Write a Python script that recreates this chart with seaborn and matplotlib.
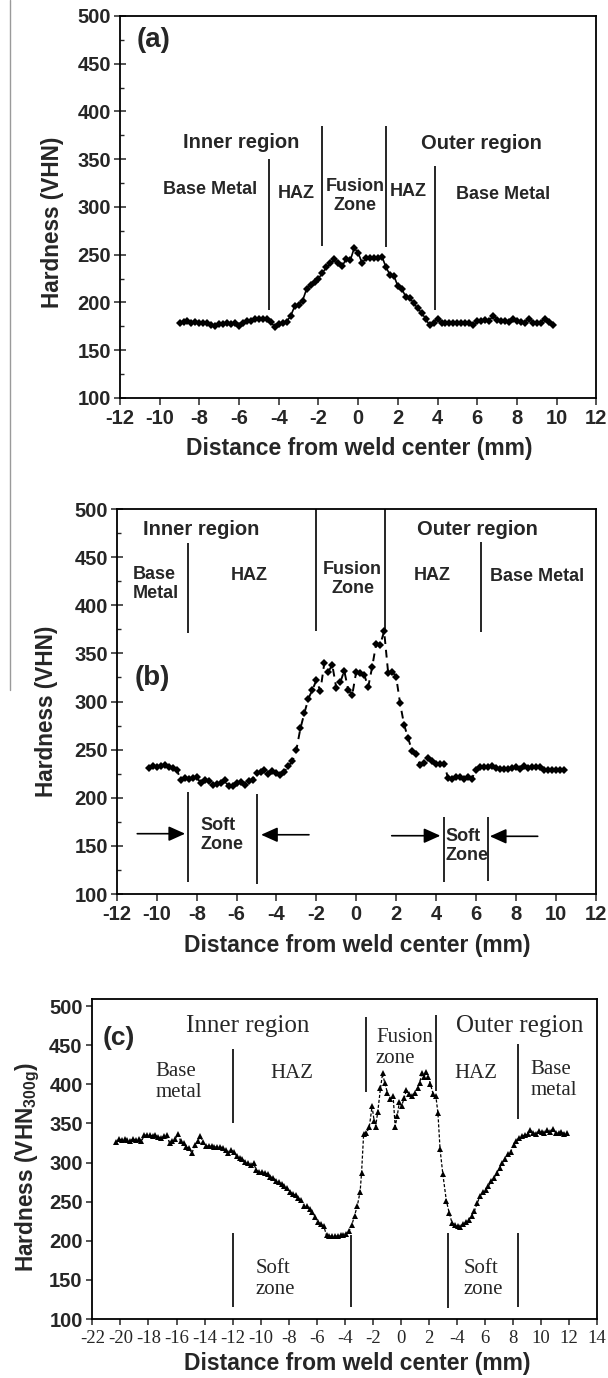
import matplotlib
matplotlib.use("Agg")
import matplotlib.pyplot as plt
from matplotlib.lines import Line2D
from matplotlib.ticker import MultipleLocator
import pandas as pd
import seaborn as sns

# ---- panel (a) hardness profile ----
a_x = [-9.0, -8.8, -8.6, -8.4, -8.2, -8.0, -7.8, -7.6, -7.4, -7.2,
       -7.0, -6.8, -6.6, -6.4, -6.2, -6.0, -5.8, -5.6, -5.4, -5.2,
       -5.0, -4.8, -4.6, -4.4, -4.2, -4.0, -3.8, -3.6, -3.4, -3.2,
       -3.0, -2.8, -2.6, -2.4, -2.2, -2.0, -1.8, -1.6, -1.4, -1.2,
       -1.0, -0.8, -0.6, -0.4, -0.2, 0.0, 0.2, 0.4, 0.6, 0.8,
       1.0, 1.2, 1.4, 1.6, 1.8, 2.0, 2.2, 2.4, 2.6, 2.8,
       3.0, 3.2, 3.4, 3.6, 3.8, 4.0, 4.2, 4.4, 4.6, 4.8,
       5.0, 5.2, 5.4, 5.6, 5.8, 6.0, 6.2, 6.4, 6.6, 6.8,
       7.0, 7.2, 7.4, 7.6, 7.8, 8.0, 8.2, 8.4, 8.6, 8.8,
       9.0, 9.2, 9.4, 9.6, 9.8]
a_hv = [179, 180, 181, 179, 180, 178, 179, 178, 176, 175,
        177, 177, 178, 177, 178, 175, 178, 181, 181, 183,
        183, 183, 183, 180, 174, 177, 178, 180, 186, 196,
        197, 202, 214, 218, 221, 225, 231, 237, 241, 245,
        241, 238, 246, 244, 257, 252, 241, 247, 247, 247,
        247, 248, 237, 229, 228, 217, 214, 206, 205, 199,
        194, 189, 183, 176, 178, 183, 179, 178, 179, 178,
        179, 178, 179, 178, 176, 181, 181, 182, 181, 186,
        182, 181, 181, 180, 183, 181, 180, 179, 183, 179,
        178, 179, 183, 180, 176]

# ---- panel (b) hardness profile ----
b_x = [-10.4, -10.2, -10.0, -9.8, -9.6, -9.4, -9.2, -9.0, -8.8, -8.6,
       -8.4, -8.2, -8.0, -7.8, -7.6, -7.4, -7.2, -7.0, -6.8, -6.6,
       -6.4, -6.2, -6.0, -5.8, -5.6, -5.4, -5.2, -5.0, -4.8, -4.6,
       -4.4, -4.2, -4.0, -3.8, -3.6, -3.4, -3.2, -3.0, -2.8, -2.6,
       -2.4, -2.2, -2.0, -1.8, -1.6, -1.4, -1.2, -1.0, -0.8, -0.6,
       -0.4, -0.2, 0.0, 0.2, 0.4, 0.6, 0.8, 1.0, 1.2, 1.4,
       1.6, 1.8, 2.0, 2.2, 2.4, 2.6, 2.8, 3.0, 3.2, 3.4,
       3.6, 3.8, 4.0, 4.2, 4.4, 4.6, 4.8, 5.0, 5.2, 5.4,
       5.6, 5.8, 6.0, 6.2, 6.4, 6.6, 6.8, 7.0, 7.2, 7.4,
       7.6, 7.8, 8.0, 8.2, 8.4, 8.6, 8.8, 9.0, 9.2, 9.4,
       9.6, 9.8, 10.0, 10.2, 10.4]
b_hv = [231, 233, 232, 233, 234, 232, 231, 229, 219, 221,
        220, 221, 222, 215, 218, 217, 213, 214, 215, 218,
        212, 212, 215, 216, 213, 217, 219, 226, 227, 229,
        225, 228, 226, 224, 227, 233, 238, 250, 272, 288,
        303, 312, 322, 311, 340, 331, 338, 314, 320, 332,
        312, 307, 331, 330, 328, 315, 336, 360, 359, 373,
        330, 331, 326, 298, 276, 262, 249, 245, 234, 236,
        241, 238, 235, 235, 235, 221, 220, 222, 222, 220,
        222, 220, 229, 232, 232, 232, 233, 231, 230, 230,
        230, 231, 232, 230, 233, 231, 232, 232, 232, 229,
        229, 229, 229, 229, 229]

# ---- panel (c) hardness profile ----
c_x = [-20.3, -20.1, -19.9, -19.7, -19.5, -19.3, -19.1, -18.9, -18.7, -18.5,
       -18.3, -18.1, -17.9, -17.7, -17.5, -17.3, -17.1, -16.9, -16.7, -16.5,
       -16.3, -16.1, -15.9, -15.7, -15.5, -15.3, -15.1, -14.9, -14.7, -14.5,
       -14.3, -14.1, -13.9, -13.7, -13.5, -13.3, -13.1, -12.9, -12.7, -12.5,
       -12.3, -12.1, -11.9, -11.7, -11.5, -11.3, -11.1, -10.9, -10.7, -10.5,
       -10.3, -10.1, -9.9, -9.7, -9.5, -9.3, -9.1, -8.9, -8.7, -8.5,
       -8.3, -8.1, -7.9, -7.7, -7.5, -7.3, -7.1, -6.9, -6.7, -6.5,
       -6.3, -6.1, -5.9, -5.7, -5.5, -5.3, -5.1, -4.9, -4.7, -4.5,
       -4.3, -4.1, -3.9, -3.7, -3.5, -3.3, -3.1, -2.9, -2.8, -2.65,
       -2.45, -2.25, -2.05, -1.9, -1.8, -1.65, -1.45, -1.3, -1.15, -0.95,
       -0.75, -0.55, -0.4, -0.25, -0.1, 0.05, 0.25, 0.4, 0.6, 0.8,
       1.0, 1.2, 1.35, 1.5, 1.65, 1.8, 1.95, 2.1, 2.3, 2.5,
       2.65, 2.8, 3.0, 3.25, 3.45, 3.65, 3.85, 4.05, 4.25, 4.45,
       4.65, 4.85, 5.05, 5.25, 5.45, 5.65, 5.85, 6.05, 6.25, 6.45,
       6.65, 6.85, 7.05, 7.25, 7.45, 7.65, 7.85, 8.05, 8.25, 8.45,
       8.65, 8.85, 9.05, 9.25, 9.45, 9.65, 9.85, 10.05, 10.25, 10.45,
       10.65, 10.85, 11.05, 11.25, 11.45, 11.65, 11.85]
c_hv = [326, 330, 329, 330, 329, 328, 330, 329, 330, 327,
        335, 335, 335, 334, 335, 333, 331, 334, 335, 325,
        327, 330, 336, 327, 325, 320, 318, 312, 322, 327,
        334, 326, 321, 321, 321, 320, 320, 320, 319, 316,
        312, 316, 313, 308, 306, 304, 301, 299, 297, 299,
        290, 288, 288, 287, 285, 282, 280, 277, 275, 273,
        270, 267, 263, 260, 258, 255, 252, 244, 245, 240,
        237, 230, 224, 221, 219, 207, 206, 206, 206, 206,
        207, 208, 209, 212, 220, 232, 245, 263, 287, 337,
        338, 345, 372, 353, 346, 364, 395, 414, 402, 389,
        381, 385, 346, 360, 378, 372, 383, 393, 387, 385,
        389, 395, 402, 415, 409, 416, 410, 401, 388, 385,
        363, 317, 285, 251, 236, 223, 220, 219, 218, 222,
        224, 227, 232, 238, 248, 257, 262, 265, 270, 276,
        280, 287, 293, 300, 305, 311, 314, 322, 327, 332,
        334, 335, 336, 341, 338, 337, 340, 339, 338, 341,
        339, 343, 338, 338, 339, 337, 338]

hv_ticks = [100, 150, 200, 250, 300, 350, 400, 450, 500]
ab_xticks = [-12, -10, -8, -6, -4, -2, 0, 2, 4, 6, 8, 10, 12]
c_xticks = [-22, -20, -18, -16, -14, -12, -10, -8, -6, -4, -2, 0, 2, 4, 6, 8, 10, 12, 14]
# the original axis really prints "-4" at +4
c_xticklabels = ['-22', '-20', '-18', '-16', '-14', '-12', '-10', '-8', '-6', '-4',
                 '-2', '0', '2', '-4', '6', '8', '10', '12', '14']

# zone boundary lines: (x, ymin, ymax)
a_bounds = [(-4.5, 192, 350), (-1.8, 259, 385), (1.42, 258, 385), (3.88, 192, 343)]
b_bounds = [(-8.42, 371, 465), (-2.03, 373, 500), (1.45, 373, 500), (6.27, 372, 466),
            (-8.45, 112, 206), (-5.0, 110, 204), (4.38, 113, 180), (6.6, 114, 180)]
c_bounds = [(-12.0, 351, 445), (-2.5, 390, 486), (2.5, 391, 488), (8.36, 356, 451),
            (-12.0, 115, 210), (-3.56, 115, 208), (3.4, 114, 210), (8.36, 115, 210)]
# soft-zone arrows in (b): (tail, head)
b_arrows = [((-10.98, 162.7), (-8.58, 162.7)), ((-2.37, 161.6), (-4.77, 161.6)),
            ((1.78, 160.6), (4.22, 160.6)), ((9.1, 160.0), (6.7, 160.0))]

# annotations: (x, y, text, size, ha)
a_texts = [(-5.9, 367, 'Inner region', 14.5, 'center'), (6.2, 366, 'Outer region', 14.5, 'center'),
           (-7.46, 318, 'Base Metal', 13, 'center'), (-3.1, 314, 'HAZ', 13, 'center'),
           (-0.16, 311.5, 'Fusion\nZone', 13, 'center'), (2.5, 316, 'HAZ', 13, 'center'),
           (7.3, 313, 'Base Metal', 13, 'center')]
b_texts = [(-7.76, 478.5, 'Inner region', 14.5, 'center'), (6.08, 478.5, 'Outer region', 14.5, 'center'),
           (-11.2, 421.7, 'Base\nMetal', 13, 'left'), (-5.35, 430.7, 'HAZ', 13, 'center'),
           (-0.18, 427, 'Fusion\nZone', 13, 'center'), (3.79, 430.7, 'HAZ', 13, 'center'),
           (9.07, 429.4, 'Base Metal', 13, 'center'), (-7.8, 161.6, 'Soft\nZone', 13, 'left'),
           (4.47, 149.5, 'Soft\nZone', 13, 'left')]
c_texts = [(-10.9, 474, 'Inner region', 18, 'center'), (8.45, 474, 'Outer region', 18, 'center'),
           (-17.5, 402.6, 'Base\nmetal', 15, 'left'), (-7.74, 413.7, 'HAZ', 15, 'center'),
           (-1.77, 446.5, 'Fusion\nzone', 15, 'left'), (5.33, 413.7, 'HAZ', 15, 'center'),
           (9.24, 405, 'Base\nmetal', 15, 'left'), (-10.36, 151, 'Soft\nzone', 15, 'left'),
           (4.45, 151, 'Soft\nzone', 15, 'left')]

sns.set_style("ticks")
plt.rcParams['font.family'] = ['Liberation Sans', 'DejaVu Sans']
plt.rcParams['mathtext.fontset'] = 'custom'
plt.rcParams['mathtext.rm'] = 'Liberation Sans:bold'
plt.rcParams['mathtext.bf'] = 'Liberation Sans:bold'
plt.rcParams['axes.edgecolor'] = 'black'
plt.rcParams['axes.linewidth'] = 1.3

fig = plt.figure(figsize=(6.08, 13.78), dpi=100)
ax_a = fig.add_axes([0.1974, 0.7112, 0.7834, 0.2772])
ax_b = fig.add_axes([0.1923, 0.3512, 0.7872, 0.2794])
ax_c = fig.add_axes([0.1520, 0.0428, 0.8300, 0.2322])

# stray page rule at the left edge of the scan
fig.add_artist(Line2D([9.7 / 608, 9.7 / 608], [1.0, 1 - 690 / 1378], color='#9a9a9a', lw=1))

df_a = pd.DataFrame({'x': a_x, 'hv': a_hv})
df_b = pd.DataFrame({'x': b_x, 'hv': b_hv})
df_c = pd.DataFrame({'x': c_x, 'hv': c_hv})

sns.lineplot(data=df_a, x='x', y='hv', ax=ax_a, color='black', marker='D', markersize=4.3,
             markeredgewidth=0, linewidth=1.2, sort=False)
sns.lineplot(data=df_b, x='x', y='hv', ax=ax_b, color='black', marker='D', markersize=4.3,
             markeredgewidth=0, linewidth=1.4, linestyle=(0, (4, 3)), sort=False)
sns.lineplot(data=df_c, x='x', y='hv', ax=ax_c, color='black', marker='^', markersize=4.5,
             markeredgewidth=0, linewidth=0.9, linestyle=(0, (2.5, 1.5)), sort=False)

bold_sans = dict(family=['Liberation Sans', 'DejaVu Sans'], fontweight='bold')
serif = dict(family=['Liberation Serif', 'DejaVu Serif'])

for ax, xticks, xlabels, ylim in [(ax_a, ab_xticks, [str(t) for t in ab_xticks], (100, 500)),
                                  (ax_b, ab_xticks, [str(t) for t in ab_xticks], (100, 500)),
                                  (ax_c, c_xticks, c_xticklabels, (100, 509))]:
    ax.set_xlim(xticks[0], xticks[-1])
    ax.set_ylim(*ylim)
    ax.set_xticks(xticks)
    ax.set_yticks(hv_ticks)
    ax.set_yticklabels([str(t) for t in hv_ticks], fontsize=14.5, **bold_sans)
    if ax is ax_c:
        ax.set_xticklabels(xlabels, fontsize=13.5, **serif)
        ax.tick_params(axis='x', direction='out', length=4, width=1.1, pad=4)
        ax.tick_params(axis='y', direction='out', length=4, width=1.1, pad=3)
    else:
        ax.set_xticklabels(xlabels, fontsize=14.5, **bold_sans)
        ax.yaxis.set_minor_locator(MultipleLocator(25))
        ax.tick_params(axis='x', direction='out', length=5, width=1.1, pad=3)
        ax.tick_params(axis='y', which='major', direction='inout', length=9, width=1.1, pad=2)
        ax.tick_params(axis='y', which='minor', direction='in', length=3, width=1.0)
    ax.set_xlabel('Distance from weld center (mm)', fontsize=16.5, va='center', **bold_sans)
    for s in ax.spines.values():
        s.set_visible(True)
        s.set_color('black')

ax_a.set_ylabel('Hardness (VHN)', fontsize=16.3, va='center', **bold_sans)
ax_b.set_ylabel('Hardness (VHN)', fontsize=16.3, va='center', **bold_sans)
ax_c.set_ylabel('Hardness (VHN$_{\\mathbf{300g}}$)', fontsize=16.3, va='center', **bold_sans)
ax_a.yaxis.set_label_coords(-0.1415, 0.46)
ax_b.yaxis.set_label_coords(-0.1465, 0.4735)
ax_c.yaxis.set_label_coords(-0.129, 0.475)
ax_a.xaxis.set_label_coords(0.502, -0.131)
ax_b.xaxis.set_label_coords(0.5025, -0.1325)
ax_c.xaxis.set_label_coords(0.525, -0.1375)

for ax, bounds in [(ax_a, a_bounds), (ax_b, b_bounds), (ax_c, c_bounds)]:
    for x, y0, y1 in bounds:
        ax.vlines(x, y0, y1, color='black', lw=1.2)

for tail, head in b_arrows:
    ax_b.annotate('', xy=head, xytext=tail,
                  arrowprops=dict(arrowstyle='-|>,head_length=1.0,head_width=0.45',
                                  color='black', lw=1.2, shrinkA=0, shrinkB=0))

for ax, texts, font in [(ax_a, a_texts, bold_sans), (ax_b, b_texts, bold_sans), (ax_c, c_texts, serif)]:
    for x, y, t, size, ha in texts:
        ax.text(x, y, t, fontsize=size, ha=ha, va='center', linespacing=1.15, **font)

ax_a.text(-10.3, 475, '(a)', fontsize=20, ha='center', va='center', **bold_sans)
ax_b.text(-10.24, 324, '(b)', fontsize=20, ha='center', va='center', **bold_sans)
ax_c.text(-20.1, 459, '(c)', fontsize=19, ha='center', va='center', **bold_sans)

fig.savefig('out.png', dpi=100)
